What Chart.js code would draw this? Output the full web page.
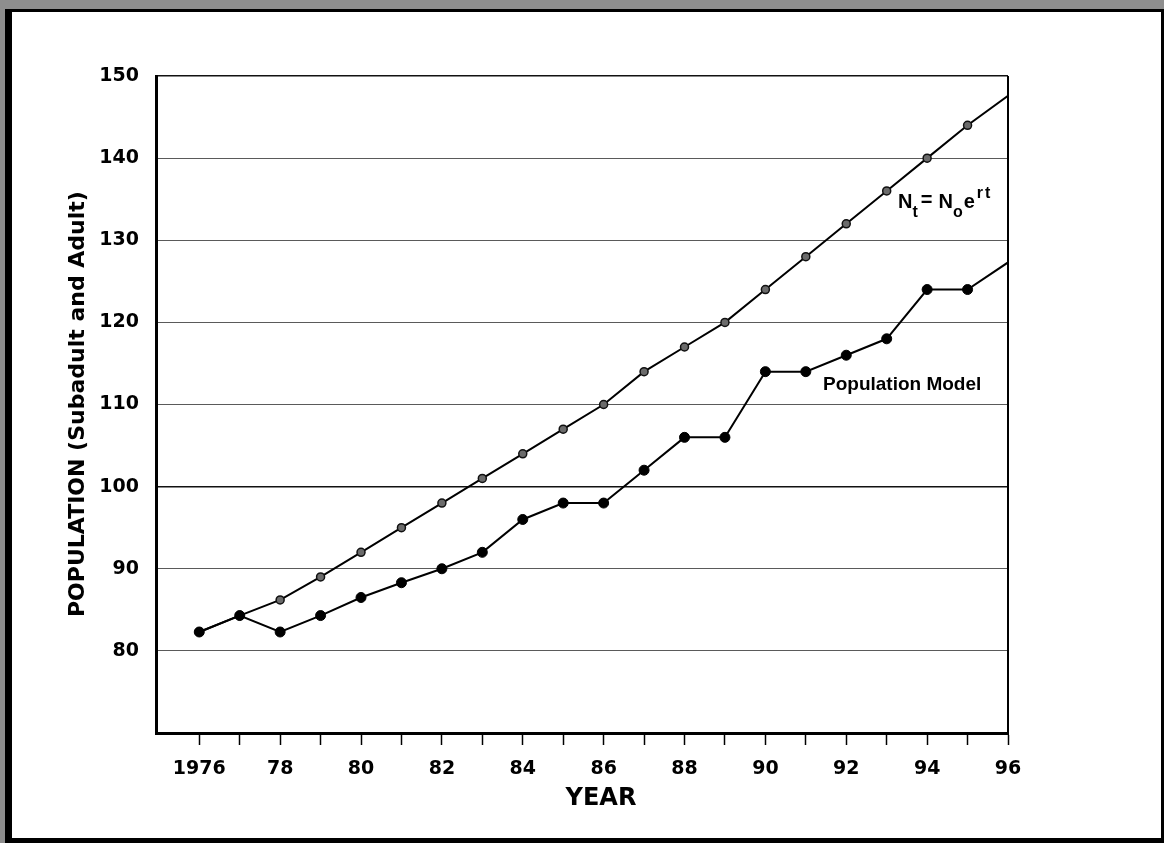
<!DOCTYPE html>
<html>
<head>
<meta charset="utf-8">
<title>Population growth 1976–1996</title>
<script src="https://cdn.jsdelivr.net/npm/chart.js@4/dist/chart.umd.min.js"></script>
<style>
  html, body { margin: 0; padding: 0; background: #fff; }
  #wrap { position: absolute; left: 0; top: 0; width: 1164px; height: 843px; }
</style>
</head>
<body>
<div id="wrap"><canvas id="chart" width="1164" height="843"></canvas></div>
<script>
// Years on the horizontal axis
const years = [1976, 1977, 1978, 1979, 1980, 1981, 1982, 1983, 1984, 1985, 1986,
               1987, 1988, 1989, 1990, 1991, 1992, 1993, 1994, 1995, 1996];

// Exponential growth curve, N_t = N_0 e^(rt)
const exponentialGrowth = [82.3, 84.3, 86.2, 89, 92, 95, 98, 101, 104, 107, 110,
                           114, 117, 120, 124, 128, 132, 136, 140, 144, 147.6];

// Population model (subadults and adults)
const populationModel = [82.3, 84.3, 82.3, 84.3, 86.5, 88.3, 90, 92, 96, 98, 98,
                         102, 106, 106, 114, 114, 116, 118, 124, 124, 127.3];

// Y-axis tick values
const yTicks = [80, 90, 100, 110, 120, 130, 140, 150];

const xLabel = 'YEAR';
const yLabel = 'POPULATION (Subadult and Adult)';
const modelLabel = 'Population Model';

const toPoints = (vals) => years.map((y, i) => ({ x: y, y: vals[i] }));
// the last year sits on the right frame, so it carries no marker
const markerSizes = (r) => years.map((y, i) => i === years.length - 1 ? 0 : r);

const TICK_FONT = { family: 'DejaVu Sans', weight: 'bold', size: 19 };

// Page frame, axis titles and curve labels
const decorations = {
  id: 'decorations',
  beforeDraw(chart) {
    const ctx = chart.ctx;
    ctx.save();
    ctx.fillStyle = '#ffffff';
    ctx.fillRect(0, 0, 1164, 843);
    ctx.fillStyle = '#8e8e8e';
    ctx.fillRect(0, 0, 1164, 9);
    ctx.fillRect(0, 0, 5, 843);
    ctx.fillStyle = '#000000';
    ctx.fillRect(5, 9, 7, 834);
    ctx.fillRect(5, 9, 1159, 3);
    ctx.fillRect(1161, 9, 3, 834);
    ctx.fillRect(5, 838, 1159, 5);
    ctx.restore();
  },
  afterDatasetsDraw(chart) {
    const ctx = chart.ctx;
    const a = chart.chartArea;
    ctx.save();
    // right side of the plot box
    ctx.strokeStyle = '#000';
    ctx.lineWidth = 2;
    ctx.beginPath();
    ctx.moveTo(a.right, a.top);
    ctx.lineTo(a.right, a.bottom + 1);
    ctx.stroke();

    ctx.fillStyle = '#000';
    ctx.textBaseline = 'alphabetic';
    // x axis title
    ctx.font = 'bold 24px "DejaVu Sans"';
    ctx.textAlign = 'center';
    ctx.fillText(xLabel, 601, 805);

    // y axis title, reading upward
    ctx.save();
    ctx.translate(84, 617);
    ctx.rotate(-Math.PI / 2);
    ctx.textAlign = 'left';
    ctx.font = 'bold 22px "DejaVu Sans"';
    ctx.fillText(yLabel, 0, 0);
    ctx.restore();

    // model curve label
    ctx.textAlign = 'left';
    ctx.font = 'bold 19px "Liberation Sans"';
    ctx.fillText(modelLabel, 823, 390);

    // growth equation label: N_t = N_o e^(rt), laid out left to right
    const big = 'bold 20px "Liberation Sans"';
    const small = 'bold 16px "Liberation Sans"';
    const base = 208;
    // [text, font, baseline shift, gap after]
    const parts = [
      ['N', big, 0, 0],
      ['t', small, 9, 3],
      ['=', big, -2, 6],
      ['N', big, 0, 0],
      ['o', small, 9, 1],
      ['e', big, 0, 2],
      ['r', small, -10, 2],
      ['t', small, -10, 0]
    ];
    let x = 898;
    parts.forEach(([txt, font, dy, gap]) => {
      ctx.font = font;
      ctx.fillText(txt, x, base + dy);
      x += ctx.measureText(txt).width + gap;
    });
    ctx.restore();
  }
};

const chart = new Chart(document.getElementById('chart'), {
  type: 'line',
  data: {
    datasets: [
      {
        label: 'N_t = N_0 e^rt',
        order: 2,
        data: toPoints(exponentialGrowth),
        borderColor: '#000',
        borderWidth: 2,
        pointRadius: markerSizes(4),
        pointBackgroundColor: '#6b6b6b',
        pointBorderColor: '#111',
        pointBorderWidth: 1.5,
        tension: 0,
        fill: false
      },
      {
        label: modelLabel,
        order: 1,
        data: toPoints(populationModel),
        borderColor: '#000',
        borderWidth: 2,
        pointRadius: markerSizes(5),
        pointBackgroundColor: '#000',
        pointBorderColor: '#000',
        pointBorderWidth: 1,
        tension: 0,
        fill: false
      }
    ]
  },
  options: {
    responsive: false,
    animation: false,
    events: [],
    layout: { padding: { left: 0, top: 76, right: 156, bottom: 0 } },
    plugins: {
      legend: { display: false },
      tooltip: { enabled: false },
      title: { display: false }
    },
    scales: {
      x: {
        type: 'linear',
        min: 1974.93,
        max: 1996,
        afterBuildTicks(scale) {
          scale.ticks = years.map(v => ({ value: v }));
        },
        afterFit(scale) { scale.height = 110; },
        ticks: {
          autoSkip: false,
          maxRotation: 0,
          minRotation: 0,
          padding: 13,
          color: '#000',
          font: TICK_FONT,
          callback(v) {
            if (v % 2 !== 0) return '';
            return v === years[0] ? String(v) : String(v % 100).padStart(2, '0');
          }
        },
        grid: {
          drawOnChartArea: false,
          drawTicks: true,
          tickLength: 12,
          tickColor: '#000',
          tickWidth: 1.5
        },
        border: { display: true, color: '#000', width: 3 }
      },
      y: {
        min: 70,
        max: 150,
        afterBuildTicks(scale) {
          scale.ticks = [70].concat(yTicks).map(v => ({ value: v }));
        },
        afterFit(scale) { scale.width = 156; },
        ticks: {
          padding: 17,
          color: '#000',
          font: TICK_FONT,
          callback(v) { return v === 70 ? '' : String(v); }
        },
        grid: {
          drawTicks: false,
          color(ctx) {
            const v = ctx.tick && ctx.tick.value;
            if (v === 70) return 'rgba(0,0,0,0)';
            if (v === 100 || v === 150) return '#111';
            return '#5a5a5a';
          },
          lineWidth(ctx) {
            const v = ctx.tick && ctx.tick.value;
            return (v === 100 || v === 150) ? 1.6 : 1;
          }
        },
        border: { display: true, color: '#000', width: 3 }
      }
    }
  },
  plugins: [decorations]
});
</script>
</body>
</html>
